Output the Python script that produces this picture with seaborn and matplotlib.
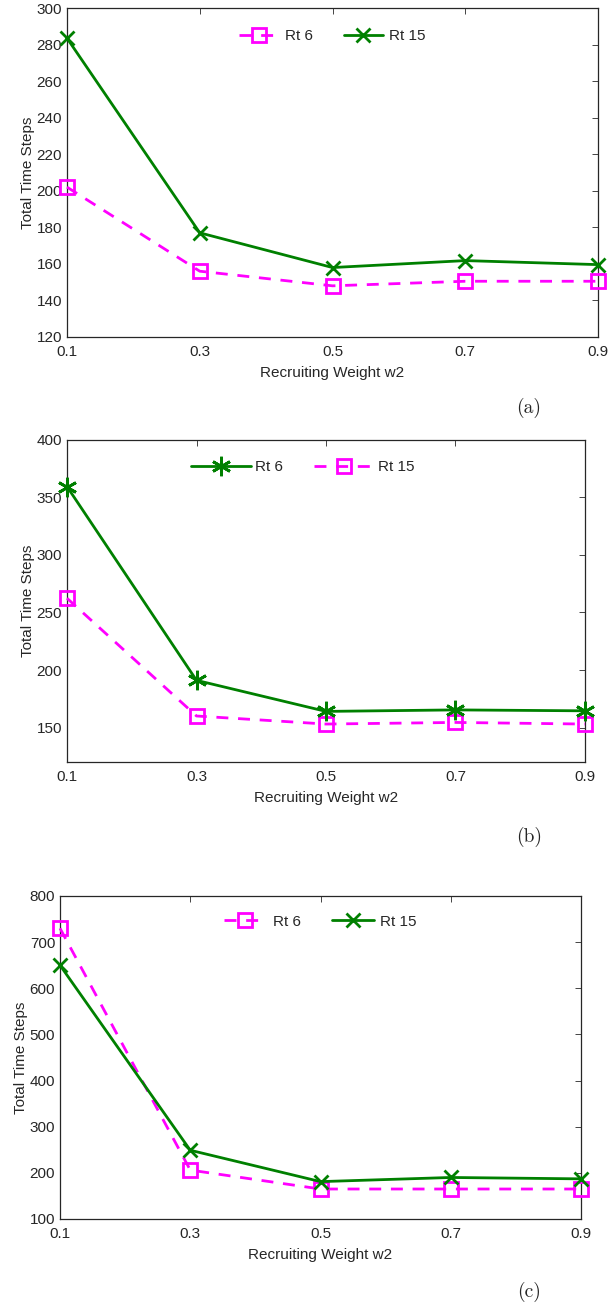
import numpy as np
import pandas as pd
import matplotlib
matplotlib.use("Agg")
import matplotlib.pyplot as plt
import seaborn as sns

# recruiting weight on the x axis
w2 = [0.1, 0.3, 0.5, 0.7, 0.9]

# panel (a)
a_rt6 = [202, 156, 148, 150.5, 150.5]
a_rt15 = [283.5, 177, 158, 161.8, 159.6]
# panel (b)
b_rt6 = [359.5, 191, 164, 165.3, 164.5]
b_rt15 = [262.4, 160, 153, 154.4, 153]
# panel (c)
c_rt6 = [730, 206, 165, 165, 165]
c_rt15 = [650, 249, 181, 190, 187]

panel_labels = ["(a)", "(b)", "(c)"]

sns.set_style("white")
plt.rcParams['font.family'] = ['Liberation Sans', 'DejaVu Sans']
plt.rcParams['font.size'] = 11

MAG = "#ff00ff"
GRN = "#008000"
GRAY = "#262626"
FS = 11

fig = plt.figure(figsize=(6.09, 13.04), dpi=100)
W, H = 609, 1304


def make_ax(l, r, t, b):
    return fig.add_axes([l / W, 1 - b / H, (r - l) / W, (b - t) / H])


def style_ax(ax, ylim, yticks):
    ax.set_xlim(0.1, 0.9)
    ax.set_ylim(*ylim)
    ax.set_xticks(w2)
    ax.set_xticklabels([str(v) for v in w2])
    ax.set_yticks(yticks)
    ax.tick_params(direction="in", length=4.5, width=0.6, colors=GRAY,
                   labelsize=FS, top=True, right=True, pad=3.5)
    ax.tick_params(axis="x", pad=6)
    for s in ax.spines.values():
        s.set_color(GRAY)
        s.set_linewidth(0.9)
        s.set_visible(True)
    ax.set_xlabel("Recruiting Weight w2", fontsize=FS, color=GRAY, labelpad=5)
    ax.set_ylabel("Total Time Steps", fontsize=FS, color=GRAY, labelpad=1.5)


def dashed(ax, y, label):
    sns.lineplot(x=w2, y=y, ax=ax, color=MAG, lw=2.0, linestyle=(0, (4.3, 3.5)),
                 marker="s", markersize=9.5, markerfacecolor="none",
                 markeredgecolor=MAG, markeredgewidth=2.0, label=label,
                 clip_on=False, zorder=3)


def solid(ax, y, label, marker, ms=10):
    sns.lineplot(x=w2, y=y, ax=ax, color=GRN, lw=2.0, linestyle="-",
                 marker=marker, markersize=ms, markerfacecolor=GRN,
                 markeredgecolor=GRN, markeredgewidth=2.0, label=label,
                 clip_on=False, zorder=4)


def legend(ax, x, y, hl, tp=0.4):
    ax.legend(loc="center", bbox_to_anchor=(x, y), ncol=2, frameon=False,
              fontsize=FS, handlelength=hl, handletextpad=tp,
              columnspacing=2.0, labelcolor=GRAY)


# (a)
ax1 = make_ax(67, 598, 8, 337)
dashed(ax1, a_rt6, "Rt 6")
solid(ax1, a_rt15, "Rt 15", "x")
style_ax(ax1, (120, 300), np.arange(120, 301, 20))
legend(ax1, 0.5, 0.915, 2.6)

# (b)
ax2 = make_ax(67, 585, 440, 762)
solid(ax2, b_rt6, "Rt 6", (6, 2, 0), ms=14)
dashed(ax2, b_rt15, "Rt 15")
style_ax(ax2, (120, 400), np.arange(150, 401, 50))
legend(ax2, 0.455, 0.916, 3.9, tp=0.3)

# (c)
ax3 = make_ax(60, 581, 896, 1219)
dashed(ax3, c_rt6, "Rt 6")
solid(ax3, c_rt15, "Rt 15", "x")
style_ax(ax3, (100, 800), np.arange(100, 801, 100))
legend(ax3, 0.5, 0.92, 2.8)

for lab, yy in zip(panel_labels, [408, 837, 1292]):
    fig.text(529 / W, 1 - yy / H, lab, ha="center", va="center",
             fontsize=14, family="cmr10")

fig.savefig("out.png", dpi=100)
